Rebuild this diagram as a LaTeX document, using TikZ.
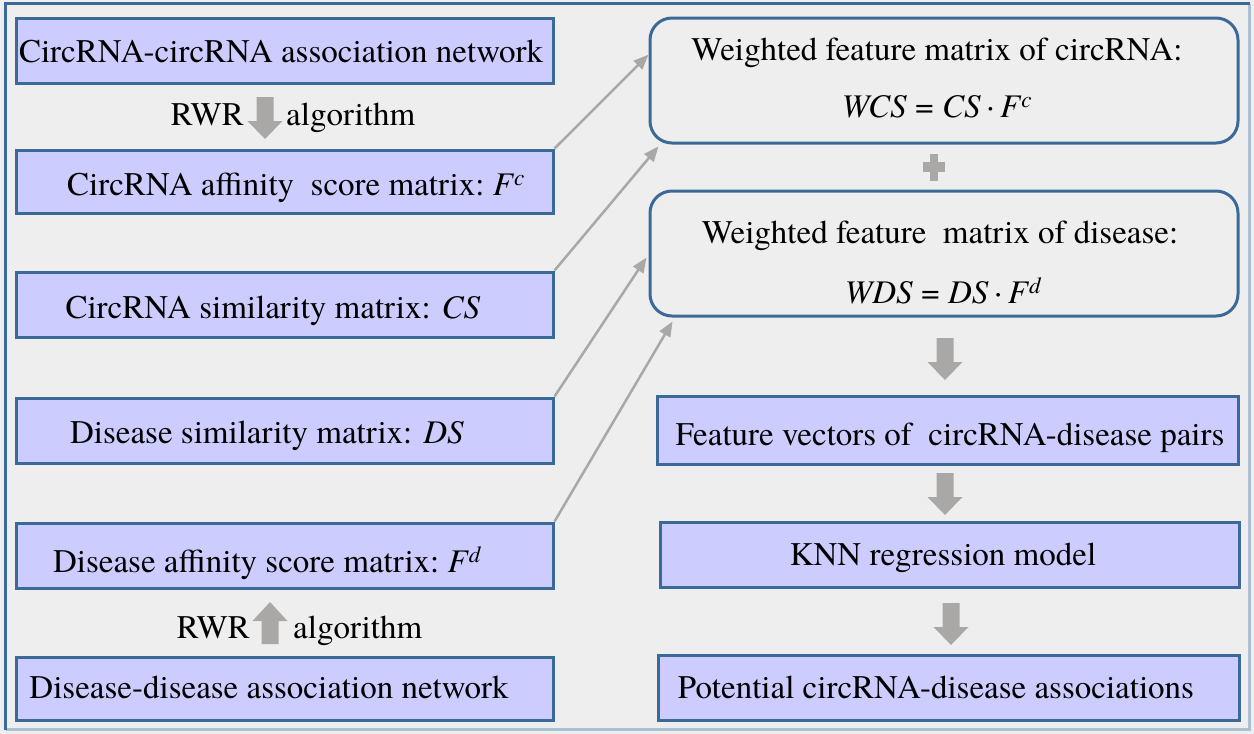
\documentclass[tikz,border=0pt]{standalone}
\usepackage{fontspec}
\setmainfont{texgyretermes-regular.otf}[
  ItalicFont=texgyretermes-italic.otf,
  BoldFont=texgyretermes-bold.otf,
  BoldItalicFont=texgyretermes-bolditalic.otf]
\usetikzlibrary{arrows.meta,calc}

\definecolor{canvas}{RGB}{238,238,238}
\definecolor{frameblue}{RGB}{60,106,152}
\definecolor{framelight}{RGB}{170,192,210}
\definecolor{boxfill}{RGB}{204,204,255}
\definecolor{linkgray}{RGB}{168,168,168}
\definecolor{blockgray}{RGB}{170,168,166}

\tikzset{
  sqbox/.style={rectangle, draw=frameblue, line width=3pt, fill=boxfill, inner sep=0pt},
  rbox/.style={rectangle, draw=frameblue, line width=3pt, rounded corners=22pt, inner sep=0pt},
  lbl/.style={inner sep=0pt, font=\fontsize{33}{40}\selectfont},
  link/.style={draw=linkgray, line width=2.5pt, -{Triangle[length=15pt,width=12pt]}},
  pics/blockdown/.style={code={
    \fill[blockgray] (-8.5,0) -- (8.5,0) -- (8.5,24) -- (17.5,24) -- (0,42)
      -- (-17.5,24) -- (-8.5,24) -- cycle;}},
  pics/blockup/.style={code={
    \fill[blockgray] (0,0) -- (17.5,19) -- (8.5,19) -- (8.5,42) -- (-8.5,42)
      -- (-8.5,19) -- (-17.5,19) -- cycle;}},
}

\newcommand{\sym}[1]{\textit{#1}}
\newcommand{\supit}[1]{\textsuperscript{\itshape #1}}

\begin{document}
\begin{tikzpicture}[x=1pt,y=-1pt]
  % canvas and outer frame (lighter on the bottom and right)
  \useasboundingbox (0,0) rectangle (1254,734);
  \fill[canvas] (0,0) rectangle (1254,734);
  \draw[framelight, line width=3pt] (1249.5,3.5) -- (1249.5,729.5) -- (5.5,729.5);
  \draw[frameblue, line width=3pt] (5.5,729.5) -- (5.5,3.5) -- (1249.5,3.5);

  % left column: input matrices and networks
  \node[sqbox, minimum width=537pt, minimum height=65pt] (b1) at (284.5,50.5) {};
  \node[sqbox, minimum width=537pt, minimum height=63pt] (b2) at (284.5,181.5) {};
  \node[sqbox, minimum width=537pt, minimum height=65pt] (b3) at (284.5,304.5) {};
  \node[sqbox, minimum width=537pt, minimum height=65pt] (b4) at (284.5,430.5) {};
  \node[sqbox, minimum width=537pt, minimum height=65pt] (b5) at (284.5,555.5) {};
  \node[sqbox, minimum width=537pt, minimum height=63pt] (b6) at (284.5,688.5) {};

  \node[lbl, anchor=base] (t1) at (281,62) {CircRNA-circRNA association network};
  \node[lbl, anchor=base] (t2) at (296,195) {CircRNA affinity\ \ score matrix:\ \sym{F}\supit{c}};
  \node[lbl, anchor=base] (t3) at (273,318) {CircRNA similarity matrix: \sym{CS}};
  \node[lbl, anchor=base] (t4) at (267,443) {Disease similarity matrix: \sym{DS}};
  \node[lbl, anchor=base] (t5) at (267,572) {Disease affinity score matrix:\ \sym{F}\supit{d}};
  \node[lbl, anchor=base] (t6) at (269,698) {Disease-disease association network};

  % RWR steps
  \pic at (265,97) {blockdown};
  \node[lbl, anchor=base east] (rwr1) at (244,125) {RWR};
  \node[lbl, anchor=base west] (alg1) at (286,125) {algorithm};
  \pic at (270,602) {blockup};
  \node[lbl, anchor=base east] (rwr2) at (250,638) {RWR};
  \node[lbl, anchor=base west] (alg2) at (293,638) {algorithm};

  % right column: weighted feature matrices
  \node[rbox, minimum width=588pt, minimum height=125pt] (r1) at (944,80.5) {};
  \node[rbox, minimum width=588pt, minimum height=125pt] (r2) at (944,253.5) {};
  \node[lbl, anchor=base] (r1a) at (937,60) {Weighted feature matrix of circRNA:};
  \node[lbl, anchor=base] (r1b) at (937,117) {\sym{WCS} = \sym{CS}\,·\,\sym{F}\supit{c}};
  \node[lbl, anchor=base] (r2a) at (940,243) {Weighted feature\ \ matrix of disease:};
  \node[lbl, anchor=base] (r2b) at (943,303) {\sym{WDS} = \sym{DS}\,·\,\sym{F}\supit{d}};

  % plus sign between the two matrices
  \fill[blockgray] (923,162) rectangle (945,172);
  \fill[blockgray] (930,154) rectangle (938,181);

  % right column: model pipeline
  \node[sqbox, minimum width=581pt, minimum height=68pt] (f1) at (947.5,430) {};
  \node[sqbox, minimum width=579pt, minimum height=65pt] (k1) at (949.5,554.5) {};
  \node[sqbox, minimum width=581pt, minimum height=65pt] (p1) at (948.5,687.5) {};
  \node[lbl, anchor=base] (f1t) at (950,445) {Feature vectors of\ \ circRNA-disease pairs};
  \node[lbl, anchor=base] (k1t) at (943,565) {KNN regression model};
  \node[lbl, anchor=base] (p1t) at (936,698) {Potential circRNA-disease associations};

  \pic at (945,338) {blockdown};
  \pic at (945,473) {blockdown};
  \pic at (951,603) {blockdown};

  % links from the inputs to the weighted matrices
  \draw[link] (b2.north east) -- (r1.175);
  \draw[link] (b3.north east) -- ($(r1.south west)+(10,2)$);
  \draw[link] (b4.north east) -- ($(r2.west)+(-2,4)$);
  \draw[link] (b5.north east) -- ($(r2.south west)+(24,4)$);
\end{tikzpicture}
\end{document}
